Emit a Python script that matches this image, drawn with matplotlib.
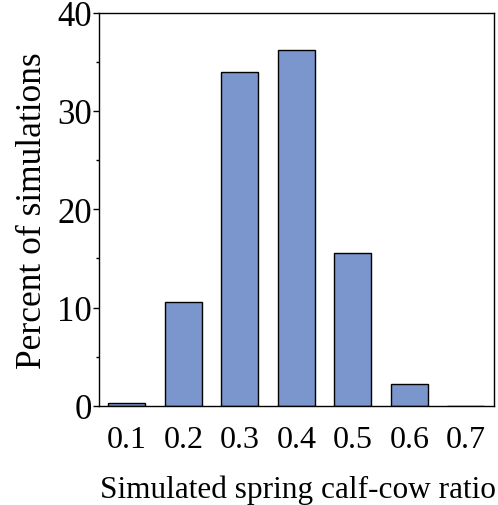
import matplotlib
matplotlib.use('Agg')
import matplotlib.pyplot as plt
from matplotlib.ticker import MultipleLocator

ratios = ['0.1', '0.2', '0.3', '0.4', '0.5', '0.6', '0.7']
percent = [0.25, 10.6, 34.0, 36.2, 15.5, 2.25, 0.0]

plt.rcParams['font.family'] = ['Liberation Serif', 'DejaVu Serif']

fig = plt.figure(figsize=(4.98, 5.06), dpi=100)
ax = fig.add_axes([0.198, 0.196, 0.794, 0.777])

x = range(len(ratios))
ax.bar(x, percent, width=0.66, color='#7b96cd', edgecolor='black', linewidth=1.0)

ax.set_xlim(-0.5, 6.5)
ax.set_ylim(0, 40)
ax.yaxis.set_major_locator(MultipleLocator(10))
ax.yaxis.set_minor_locator(MultipleLocator(5))
ax.set_xticks(list(x))
ax.set_xticklabels(ratios, fontsize=23)
ax.tick_params(axis='x', length=0, pad=14)
ax.tick_params(axis='y', which='major', length=4, width=1, labelsize=25, pad=1)
ax.tick_params(axis='y', which='minor', length=2.5, width=1)

for s in ax.spines.values():
    s.set_linewidth(1.0)

ax.set_ylabel('Percent of simulations', fontsize=25.5, labelpad=6)
ax.set_xlabel('Simulated spring calf-cow ratio', fontsize=22.5, labelpad=10)
ax.xaxis.set_label_coords(0.505, -0.175)

fig.savefig('out.png', dpi=100)
